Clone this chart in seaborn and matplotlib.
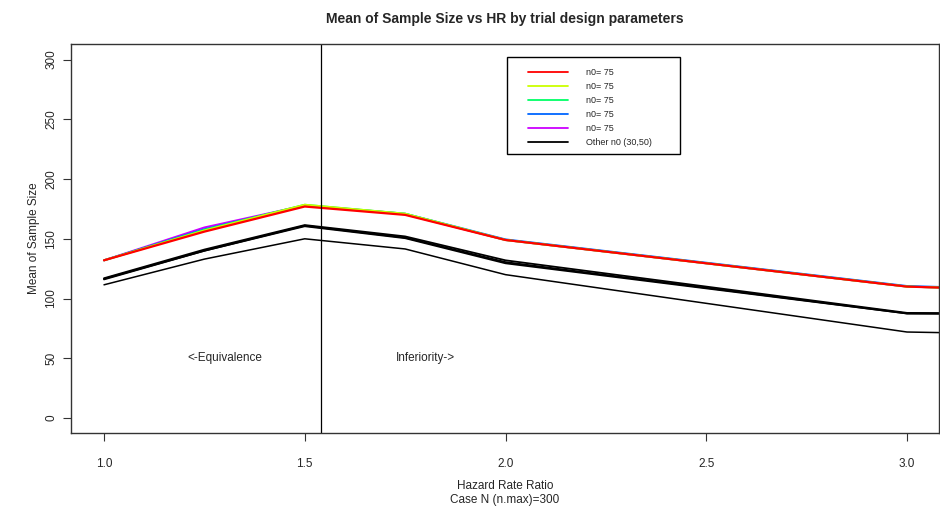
import numpy as np
import pandas as pd
import seaborn as sns
import matplotlib
matplotlib.use("Agg")
import matplotlib.pyplot as plt
from matplotlib.lines import Line2D
from matplotlib.patches import Rectangle

# ---- data ----
hr = [1.0, 1.25, 1.5, 1.75, 2.0, 3.0, 4.0]
red_75 = [132, 156, 177, 170, 149, 110, 100]
yellow_75 = [132, 157, 178.5, 171, 149, 110, 100]
green_75 = [132, 157.5, 178.5, 171, 149, 110, 100.5]
blue_75 = [132, 158, 178, 171, 149.5, 110.5, 101]
magenta_75 = [132, 159.5, 178, 170.5, 149, 110, 100]
black_a = [117, 141, 161.5, 152, 132, 88, 86]
black_b = [116.5, 140, 161, 151, 130.5, 87.5, 86]
black_c = [116, 140, 160.5, 150.5, 129.5, 87.5, 86]
black_thin = [111.5, 133, 150, 141.5, 120, 72, 66]
x_ticks = [1.0, 1.5, 2.0, 2.5, 3.0]
y_ticks = [0, 50, 100, 150, 200, 250, 300]
legend_labels = ["n0= 75", "n0= 75", "n0= 75", "n0= 75", "n0= 75", "Other n0 (30,50)"]
cutoff = 1.54

sns.set_theme(style="white")
plt.rcParams['font.family'] = ['Liberation Sans', 'DejaVu Sans']

fig = plt.figure(figsize=(9.4, 5.11), dpi=100)
ax = fig.add_axes([71/940, 1-433/511, (939-71)/940, (433-44)/511])

def draw(vals, color, lw, label=None):
    df = pd.DataFrame({"hr": hr, "n": vals})
    sns.lineplot(data=df, x="hr", y="n", color=color, lw=lw, ax=ax,
                 label=label, legend=False, solid_joinstyle="miter")

draw(black_thin, "black", 1.1)
for v in (black_a, black_b, black_c):
    draw(v, "black", 1.3)
draw(magenta_75, "#CC00FF", 1.4)
draw(blue_75, "#0066FF", 1.4)
draw(green_75, "#00FF66", 1.4)
draw(yellow_75, "#CCFF00", 1.4)
draw(red_75, "#FF0000", 1.6)

ax.axvline(cutoff, color="black", lw=0.9)
ax.text(1.30, 50, "<-Equivalence", ha="center", va="center", fontsize=8.5)
ax.text(1.80, 50, "Inferiority->", ha="center", va="center", fontsize=8.5)

ax.set_xlim(1.0 - 33/401.5, 1.0 + (939-104)/401.5)
ax.set_ylim(-12.5, 313)
ax.set_xticks(x_ticks)
ax.set_xticklabels([f"{t:.1f}" for t in x_ticks])
ax.set_yticks(y_ticks)
ax.set_yticklabels([str(t) for t in y_ticks], rotation=90, va="center")
ax.tick_params(axis="both", direction="out", length=6, width=0.8, color="#333333",
               labelsize=8.5, bottom=True, left=True)
ax.tick_params(axis="x", pad=12)
ax.tick_params(axis="y", pad=4)
for s in ax.spines.values():
    s.set_color("#333333")
    s.set_linewidth(1.0)

ax.set_xlabel("Hazard Rate Ratio\nCase N (n.max)=300", fontsize=8.5, labelpad=7)
ax.set_ylabel("Mean of Sample Size", fontsize=8.5, labelpad=4)
ax.set_title("Mean of Sample Size vs HR by trial design parameters",
             fontsize=10, fontweight="bold", pad=15)

handles = [Line2D([], [], color=c, lw=1.3) for c in
           ["#FF0000", "#CCFF00", "#00FF66", "#0066FF", "#CC00FF", "black"]]
leg = ax.legend(handles, legend_labels, loc="upper left",
                bbox_to_anchor=(519/940, 1-59/511), bbox_transform=fig.transFigure,
                fontsize=6.5, frameon=False,
                handlelength=4.4, handletextpad=2.0, labelspacing=0.55,
                borderpad=1.0, borderaxespad=0)
fig.add_artist(Rectangle((507/940, 1-154/511), (680-507)/940, (154-57)/511,
                         transform=fig.transFigure, fill=False,
                         edgecolor="black", lw=1.0, zorder=5))

fig.savefig("out.png", dpi=100)
